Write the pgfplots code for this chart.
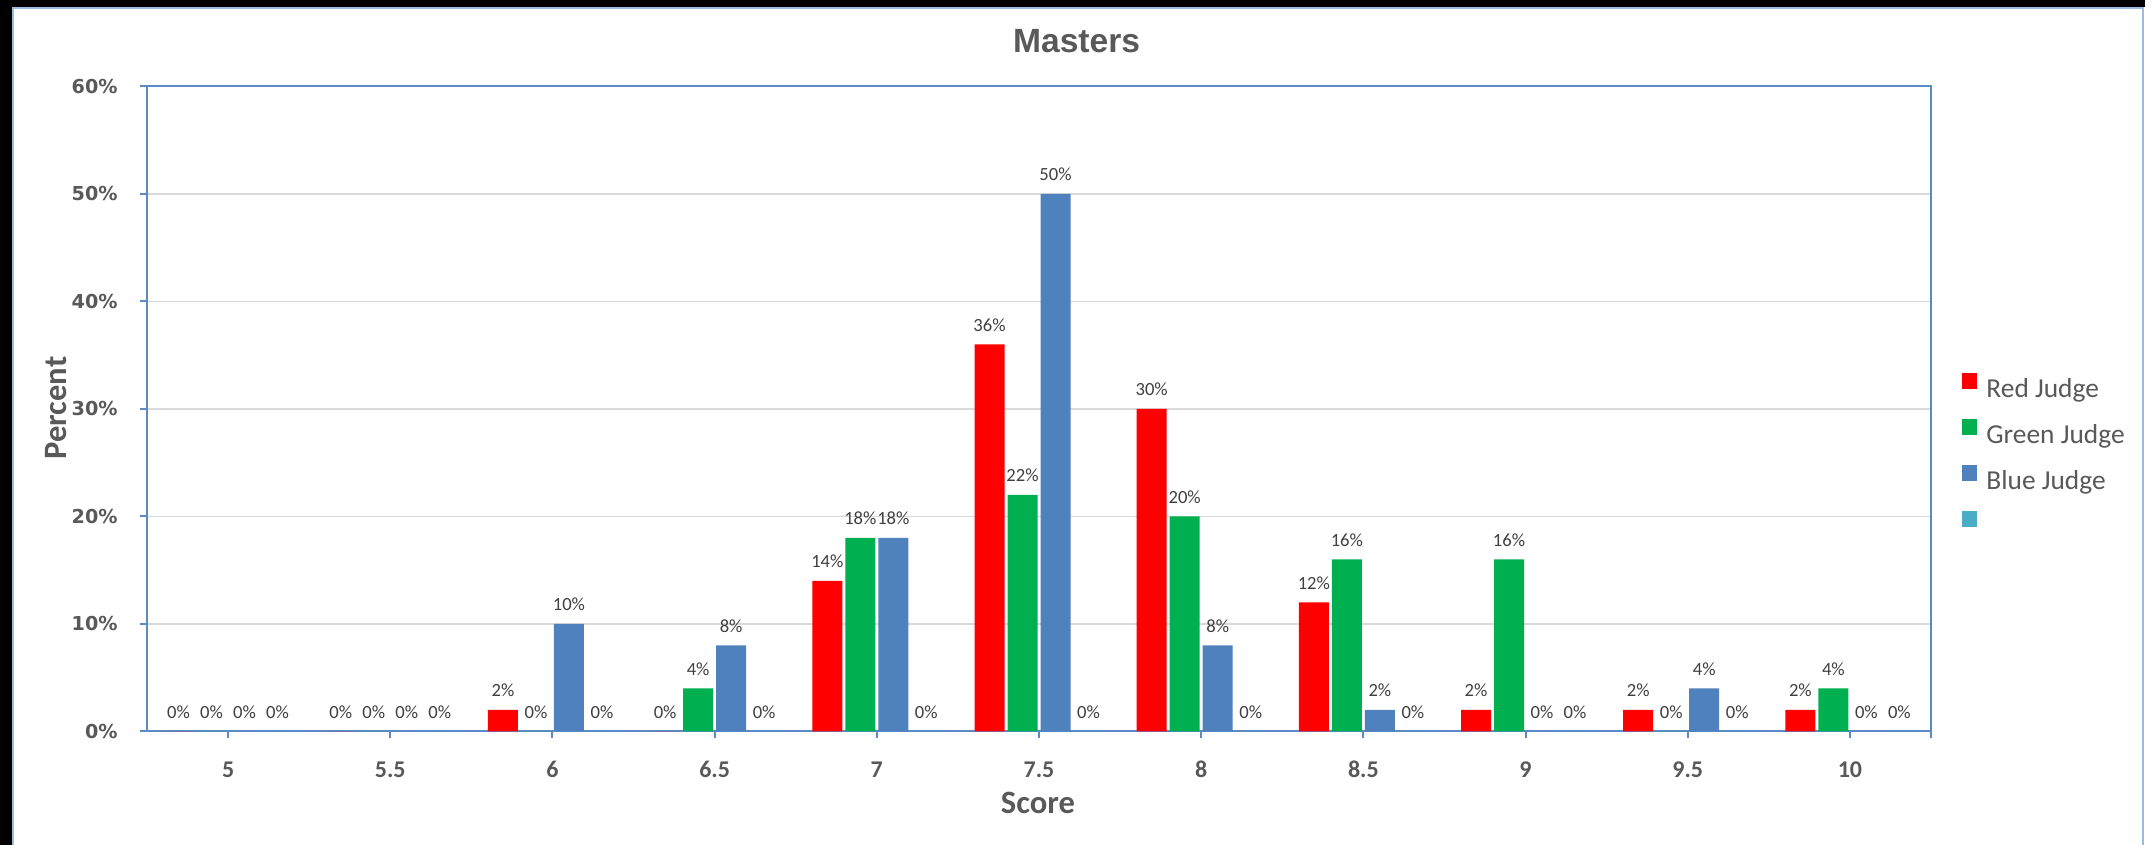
\documentclass[border=0pt]{standalone}
\usepackage{fontspec}
\setmainfont{Carlito}
\newfontfamily\arialf{Liberation Sans}
\newfontfamily\dejavu{DejaVu Sans}
\usepackage{pgfplots}
\pgfplotsset{compat=1.18}
\definecolor{txtgray}{HTML}{595959}
\definecolor{lblgray}{HTML}{404040}
\definecolor{axblue}{HTML}{5B8AC6}
\definecolor{frameblue}{HTML}{9DBCE2}
\definecolor{gridgray}{HTML}{D9D9D9}
\definecolor{cRed}{HTML}{FF0000}
\definecolor{cGreen}{HTML}{00B050}
\definecolor{cBlue}{HTML}{4F81BD}
\definecolor{cTeal}{HTML}{4BACC6}
\pgfplotsset{mylegend/.style={legend image code/.code={\fill[##1,draw=none] (0pt,-0.3pt) rectangle (7.5pt,7.7pt);}}}
\begin{document}
\begin{tikzpicture}
\useasboundingbox (0,0) rectangle (1076pt,422.5pt);
\fill[white] (0,0) rectangle (1076pt,422.5pt);
\fill[black] (0,419pt) rectangle (1072.5pt,422.5pt);
\fill[black] (0,0) rectangle (6pt,422.5pt);
\draw[frameblue,line width=1pt] (6.5pt,0) -- (6.5pt,418.5pt) -- (1071.5pt,418.5pt) -- (1071.5pt,0);
\begin{axis}[
  at={(73.5pt,56.75pt)}, anchor=south west,
  scale only axis, width=892pt, height=322.5pt,
  ybar=1.5pt, bar width=15pt,
  xmin=-0.5, xmax=10.5, ymin=0, ymax=60,
  xtick={0,...,10}, xticklabels={5,5.5,6,6.5,7,7.5,8,8.5,9,9.5,10},
  extra x ticks={10.5}, extra x tick labels={}, extra x tick style={grid=none},
  ytick={0,10,...,60},
  yticklabel={\pgfmathprintnumber{\tick}\%},
  /pgf/number format/assume math mode=true,
  ymajorgrids, grid style={gridgray, line width=0.75pt},
  axis line style={axblue, line width=1pt},
  every tick/.style={axblue, line width=1pt},
  tick align=outside, major tick length=3.5pt,
  tick pos=left,
  xticklabel style={font=\bfseries\fontsize{12}{14}\selectfont, text=txtgray, anchor=base, inner sep=0pt, yshift=-19.5pt},
  yticklabel style={font=\dejavu\bfseries\fontsize{9.6}{11}\selectfont, text=txtgray, anchor=east, inner sep=0pt, xshift=-11pt},
  nodes near coords={\pgfmathprintnumber{\pgfplotspointmeta}\%},
  every node near coord/.append style={font=\fontsize{9.3}{11}\selectfont, text=lblgray, anchor=base, inner sep=0pt, yshift=6.5pt},
  clip=false,
  legend style={at={(1.0174,0.5565)}, anchor=north west, draw=none, fill=none, inner sep=0pt,
    font=\fontsize{13.7}{16}\selectfont, text=txtgray, row sep=10.7pt,
    nodes={inner sep=0pt, text height=9pt, text depth=0.3pt},
    /tikz/every odd column/.append style={column sep=4.5pt}},
  legend cell align=left,
]
\addplot[fill=cRed, draw=none, mylegend] coordinates {(0,0) (1,0) (2,2) (3,0) (4,14) (5,36) (6,30) (7,12) (8,2) (9,2) (10,2)};
\addlegendentry{Red Judge}
\addplot[fill=cGreen, draw=none, mylegend] coordinates {(0,0) (1,0) (2,0) (3,4) (4,18) (5,22) (6,20) (7,16) (8,16) (9,0) (10,4)};
\addlegendentry{Green Judge}
\addplot[fill=cBlue, draw=none, mylegend] coordinates {(0,0) (1,0) (2,10) (3,8) (4,18) (5,50) (6,8) (7,2) (8,0) (9,4) (10,0)};
\addlegendentry{Blue Judge}
\addplot[fill=cTeal, draw=none, mylegend] coordinates {(0,0) (1,0) (2,0) (3,0) (4,0) (5,0) (6,0) (7,0) (8,0) (9,0) (10,0)};
\addlegendentry{}
\end{axis}
\node[font=\arialf\bfseries\fontsize{16.8}{20}\selectfont, text=txtgray, anchor=base] at (538.3pt,396pt) {Masters};
\node[font=\bfseries\fontsize{16.3}{19}\selectfont, text=txtgray, anchor=base] at (519pt,15.5pt) {Score};
\node[font=\bfseries\fontsize{16.3}{19}\selectfont, text=txtgray, anchor=base, rotate=90] at (33.3pt,218.5pt) {Percent};
\end{tikzpicture}
\end{document}
